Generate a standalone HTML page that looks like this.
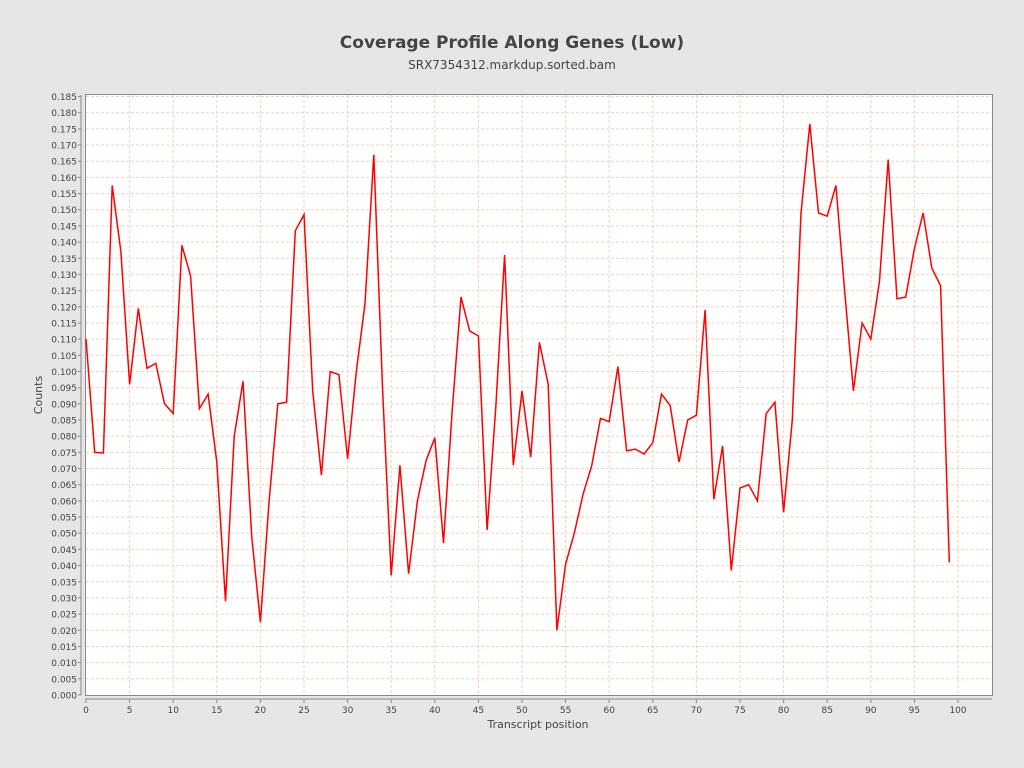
<!DOCTYPE html>
<html><head><meta charset="utf-8"><style>
html,body{margin:0;padding:0;background:#e6e6e6;}
svg{display:block;font-family:"DejaVu Sans","Liberation Sans",sans-serif;}
</style></head><body>
<svg id="c" width="1024" height="768" xmlns="http://www.w3.org/2000/svg">
<rect width="1024" height="768" fill="#e6e6e6"/>
<text x="512" y="48" text-anchor="middle" font-size="17" font-weight="bold" fill="#444">Coverage Profile Along Genes (Low)</text>
<text x="512" y="69" text-anchor="middle" font-size="12" fill="#444">SRX7354312.markdup.sorted.bam</text>
<rect x="85.5" y="94.5" width="907" height="601" fill="#fff" stroke="#888"/>
<g id="g"></g>
<text x="42" y="395" text-anchor="middle" font-size="11" fill="#444" transform="rotate(-90 42 395)">Counts</text>
<text x="538" y="728" text-anchor="middle" font-size="11" fill="#444">Transcript position</text>
</svg>
<script>
var d=[0.110,0.075,0.0748,0.1575,0.137,0.096,0.1195,0.101,0.1025,0.090,0.087,0.139,0.1295,0.0885,0.093,0.072,0.029,0.080,0.097,0.049,0.0225,0.060,0.090,0.0905,0.1435,0.1485,0.094,0.068,0.100,0.099,0.073,0.100,0.121,0.167,0.095,0.037,0.071,0.0375,0.060,0.0725,0.0795,0.047,0.088,0.123,0.1125,0.111,0.051,0.089,0.136,0.071,0.094,0.0735,0.109,0.096,0.020,0.0405,0.050,0.062,0.071,0.0855,0.0845,0.1015,0.0755,0.076,0.0745,0.078,0.093,0.0895,0.072,0.085,0.0865,0.119,0.0605,0.077,0.0385,0.064,0.065,0.060,0.087,0.0905,0.0565,0.085,0.149,0.1765,0.149,0.148,0.1575,0.125,0.094,0.115,0.110,0.128,0.1655,0.1225,0.123,0.138,0.149,0.132,0.1265,0.041];
function X(v){return 86+v*8.72;}
function Y(v){return 695-v*(598.5/0.185);}
var s='';
for(var i=0;i<=37;i++){var v=i*0.005,y=Y(v).toFixed(1);
 if(i>0)s+='<line x1="86" x2="992" y1="'+y+'" y2="'+y+'" stroke="#f3d2b8" stroke-dasharray="3,2" stroke-width="1"/>';
 s+='<line x1="78" x2="81" y1="'+y+'" y2="'+y+'" stroke="#888"/>';
 s+='<text x="77" y="'+(+y+3.5)+'" text-anchor="end" font-size="9" fill="#444">'+v.toFixed(3)+'</text>';}
for(var i=0;i<=100;i+=5){var x=X(i).toFixed(1);
 if(i>0)s+='<line y1="95" y2="695" x1="'+x+'" x2="'+x+'" stroke="#f3d2b8" stroke-dasharray="3,2" stroke-width="1"/>';
 s+='<line y1="699" y2="703" x1="'+x+'" x2="'+x+'" stroke="#888"/>';
 s+='<text x="'+x+'" y="713" text-anchor="middle" font-size="9" fill="#444">'+i+'</text>';}
s+='<line x1="81" x2="81" y1="95" y2="695" stroke="#888"/><line x1="85" x2="992" y1="699" y2="699" stroke="#888"/>';
var p=d.map(function(v,i){return X(i).toFixed(1)+','+Y(v).toFixed(1);}).join(' ');
s+='<polyline points="'+p+'" fill="none" stroke="#ff0000" stroke-width="1.5"/>';
document.getElementById('g').innerHTML=s;
</script>
</body></html>
